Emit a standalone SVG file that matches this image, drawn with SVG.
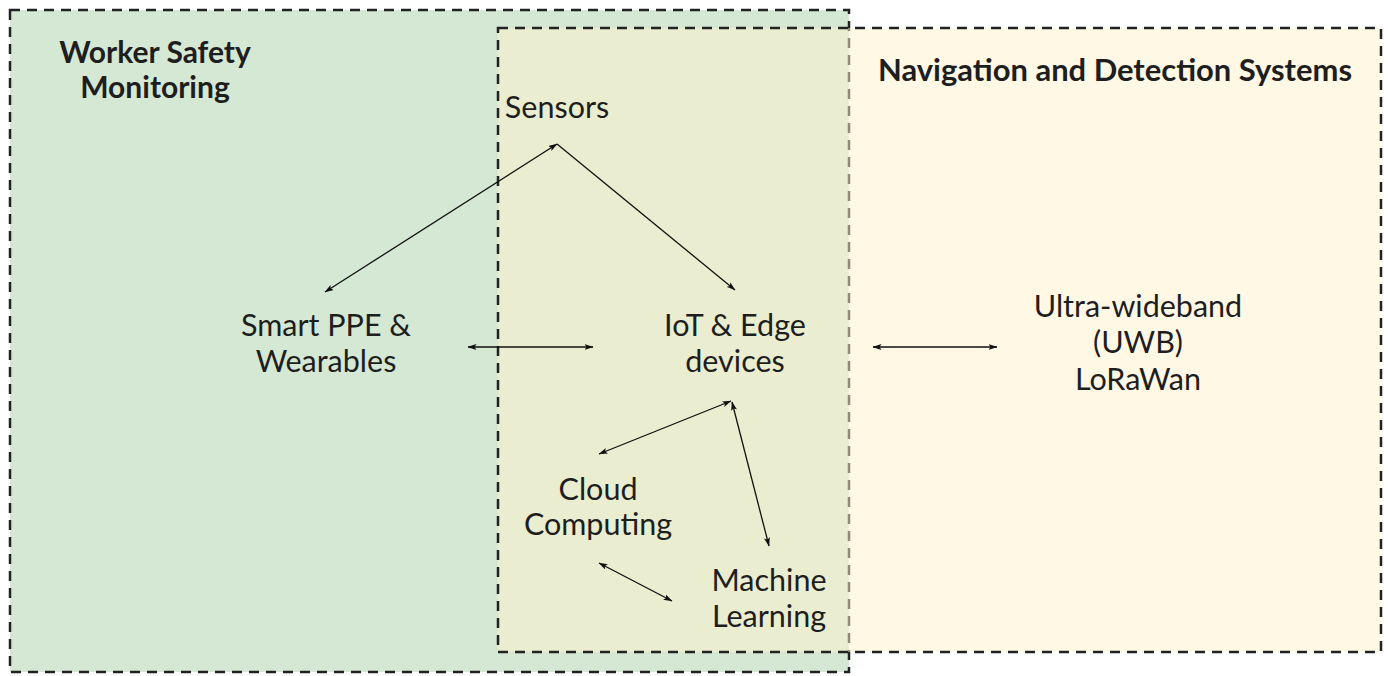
<svg xmlns="http://www.w3.org/2000/svg" width="1388" height="676" viewBox="0 0 1388 676">
<defs>
<marker id="ah" viewBox="0 0 9 6" refX="8.5" refY="3" markerWidth="9" markerHeight="6" markerUnits="userSpaceOnUse" orient="auto-start-reverse">
<path d="M0,0 L9,3 L0,6 L2,3 z" fill="#111"/>
</marker>
</defs>
<style>
.box{stroke:#222;stroke-width:2.5;stroke-dasharray:10 7}
.t{font-family:Lato,"Open Sans","Liberation Sans",sans-serif;font-size:30.5px;fill:#1e1e1e;text-anchor:middle}
.b{font-weight:bold;font-size:30px}
.c{stroke:#111;stroke-width:1.3;fill:none}
.d{marker-end:url(#ah)}
.dd{marker-start:url(#ah);marker-end:url(#ah)}
</style>
<rect width="1388" height="676" fill="#ffffff"/>
<g id="worker-safety">
<rect class="box" x="10" y="10" width="839" height="662" fill="#d5e8d4"/>
<text class="t b" x="155" y="63">Worker Safety</text>
<text class="t b" x="155" y="98">Monitoring</text>
</g>
<g id="navigation">
<rect class="box" x="498" y="28" width="883" height="624" fill="#fff2cc" fill-opacity="0.5"/>
<text class="t b" x="1115" y="81" textLength="474" lengthAdjust="spacingAndGlyphs">Navigation and Detection Systems</text>
</g>
<g id="sensors"><text class="t" x="557" y="118">Sensors</text></g>
<g id="smart-ppe"><text class="t" x="326" y="336">Smart PPE &amp;</text><text class="t" x="326" y="372">Wearables</text></g>
<g id="iot"><text class="t" x="735" y="336">IoT &amp; Edge</text><text class="t" x="735" y="372">devices</text></g>
<g id="uwb"><text class="t" x="1138" y="317">Ultra-wideband</text><text class="t" x="1138" y="353">(UWB)</text><text class="t" x="1138" y="390">LoRaWan</text></g>
<g id="cloud"><text class="t" x="598" y="500">Cloud</text><text class="t" x="598" y="535">Computing</text></g>
<g id="ml"><text class="t" x="769" y="591">Machine</text><text class="t" x="769" y="627">Learning</text></g>
<g id="connectors">
<line class="c dd" x1="325" y1="292" x2="557" y2="144"/>
<line class="c d" x1="557" y1="144" x2="735" y2="290"/>
<line class="c dd" x1="468" y1="347" x2="593" y2="347"/>
<line class="c dd" x1="873" y1="347" x2="997" y2="347"/>
<line class="c dd" x1="599" y1="454" x2="731" y2="401"/>
<line class="c dd" x1="732" y1="402" x2="769" y2="546"/>
<line class="c dd" x1="599" y1="563" x2="672" y2="601"/>
</g>
</svg>
